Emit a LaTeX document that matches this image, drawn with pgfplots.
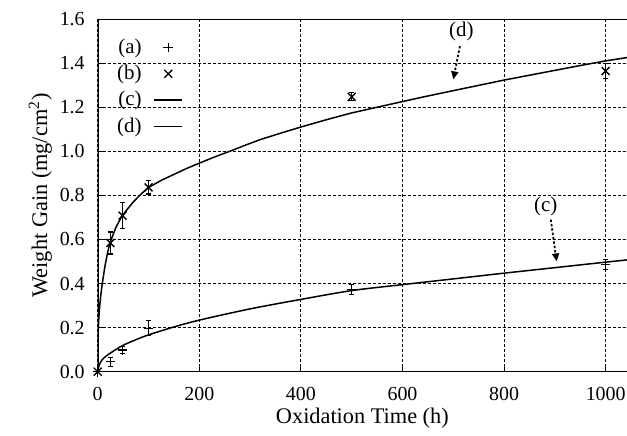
\documentclass[border=0pt]{standalone}
\usepackage{fontspec}
\setmainfont{Liberation Serif}
\usepackage{pgfplots}
\pgfplotsset{compat=1.18}
\usetikzlibrary{arrows.meta}

\begin{document}
\begin{tikzpicture}
\begin{axis}[
    scale only axis,
    width=264.65bp, height=176.35bp,
    xmin=0, xmax=1042, ymin=0, ymax=1.6,
    xtick={0,200,400,600,800,1000},
    ytick={0,0.2,0.4,0.6,0.8,1.0,1.2,1.4,1.6},
    xtick pos=bottom, ytick pos=left,
    tick align=inside,
    major tick length=3bp,
    tick style={black, line width=0.5bp},
    grid=major,
    major grid style={black, line width=0.5bp, dash pattern=on 1.5bp off 1bp},
    axis line style={draw=none},
    /pgf/number format/assume math mode=true,
    x tick label style={/pgf/number format/1000 sep={}, anchor=base, yshift=-14.15bp},
    y tick label style={/pgf/number format/fixed, /pgf/number format/fixed zerofill,
        /pgf/number format/precision=1, xshift=-3bp},
    tick label style={font=\fontsize{10}{12}\selectfont},
    label style={font=\fontsize{11.2}{13}\selectfont},
    xlabel={Oxidation Time (h)},
    ylabel={Weight Gain (mg/cm\textsuperscript{2})},
    xlabel style={at={(axis description cs:0.5,-0.1463)}, anchor=base},
    ylabel style={at={(axis description cs:-0.0958,0.5)}, anchor=base},
    legend plot pos=right,
    legend cell align=right,
    legend image code/.code={%
        \draw[mark repeat=2, mark phase=2, #1] plot coordinates {(0bp,0bp) (7bp,0bp) (14bp,0bp)};},
    legend style={
        at={(axis description cs:0.0359,0.9453)}, anchor=north west,
        draw=none, fill=none, inner sep=0pt,
        row sep=4.4bp, column sep=6bp,
        nodes={inner sep=0pt},
        font=\fontsize{10.5}{12}\selectfont
    },
]

% (a) measured, plus marks
\addplot[black, only marks, mark=+, mark size=2.4bp, line width=0.7bp,
    error bars/.cd, y dir=both, y explicit,
    error bar style={line width=0.6bp},
    error mark options={rotate=90, mark size=1.1bp, line width=0.6bp}]
    coordinates {
    (0,0) +- (0,0)
    (25,0.045) +- (0,0.02)
    (49,0.099) +- (0,0.015)
    (100,0.197) +- (0,0.034)
    (500,0.374) +- (0,0.023)
    (1000,0.485) +- (0,0.023)
};
\addlegendentry{(a)}

% (b) measured, cross marks
\addplot[black, only marks, mark=x, mark size=2.8bp, line width=0.7bp,
    error bars/.cd, y dir=both, y explicit,
    error bar style={line width=0.6bp},
    error mark options={rotate=90, mark size=1.1bp, line width=0.6bp}]
    coordinates {
    (0,0) +- (0,0)
    (25,0.584) +- (0,0.05)
    (49,0.708) +- (0,0.06)
    (100,0.836) +- (0,0.03)
    (500,1.247) +- (0,0.018)
    (1000,1.364) +- (0,0.034)
};
\addlegendentry{(b)}

% (c) fitted curve, lower
\addplot[black, line width=0.75bp, smooth, mark=none] coordinates {
    (0,0) (1,0.015) (3,0.03) (6,0.045) (12,0.062) (24,0.083) (48.5,0.118)
    (75,0.145) (100,0.167) (150,0.203) (200,0.234) (300,0.285) (400,0.328)
    (500,0.368) (600,0.395) (700,0.421) (800,0.447) (900,0.472) (1000,0.497)
    (1042,0.507)
};
\addlegendentry{(c)}

% (d) fitted curve, upper
\addplot[black, line width=0.75bp, mark=none] coordinates {
    (0,0) (0.25,0.1) (1,0.185) (2,0.236) (4,0.3) (6.5,0.355) (9,0.4)
    (14,0.475) (19,0.535) (24,0.584) (30,0.62) (35,0.65) (42,0.682)
    (48.5,0.708) (60,0.742) (70,0.77) (85,0.805) (99,0.834) (125,0.868)
    (150,0.895) (175,0.922) (201,0.947) (230,0.974) (260,1.0) (290,1.027)
    (320,1.053) (360,1.082) (400,1.11) (450,1.143) (500,1.174) (570,1.21)
    (634,1.243) (700,1.275) (750,1.299) (800,1.323) (850,1.345) (900,1.367)
    (950,1.389) (1000,1.41) (1042,1.425)
};
\addlegendentry{(d)}

% annotations
\node[font=\fontsize{10.5}{12}\selectfont] at (axis cs:716,1.543) {(d)};
\draw[line width=0.9bp, dash pattern=on 1.2bp off 1bp, -{Triangle[length=4bp,width=3.5bp]}]
    (axis cs:713,1.477) -- (axis cs:700,1.326);
\node[font=\fontsize{10.5}{12}\selectfont] at (axis cs:882,0.75) {(c)};
\draw[line width=0.9bp, dash pattern=on 1.2bp off 1bp, -{Triangle[length=4bp,width=3.5bp]}]
    (axis cs:892,0.69) -- (axis cs:903.5,0.5);

% frame: left, top, bottom only
\draw[black, line width=1bp] (rel axis cs:1,1) -- (rel axis cs:0,1) -- (rel axis cs:0,0) -- (rel axis cs:1,0);

\coordinate (bbsw) at (rel axis cs:-0.1846,-0.1823);
\coordinate (bbne) at (rel axis cs:1,1.0539);
\end{axis}
\pgfresetboundingbox
\path (bbsw) rectangle (bbne);
\end{tikzpicture}
\end{document}
